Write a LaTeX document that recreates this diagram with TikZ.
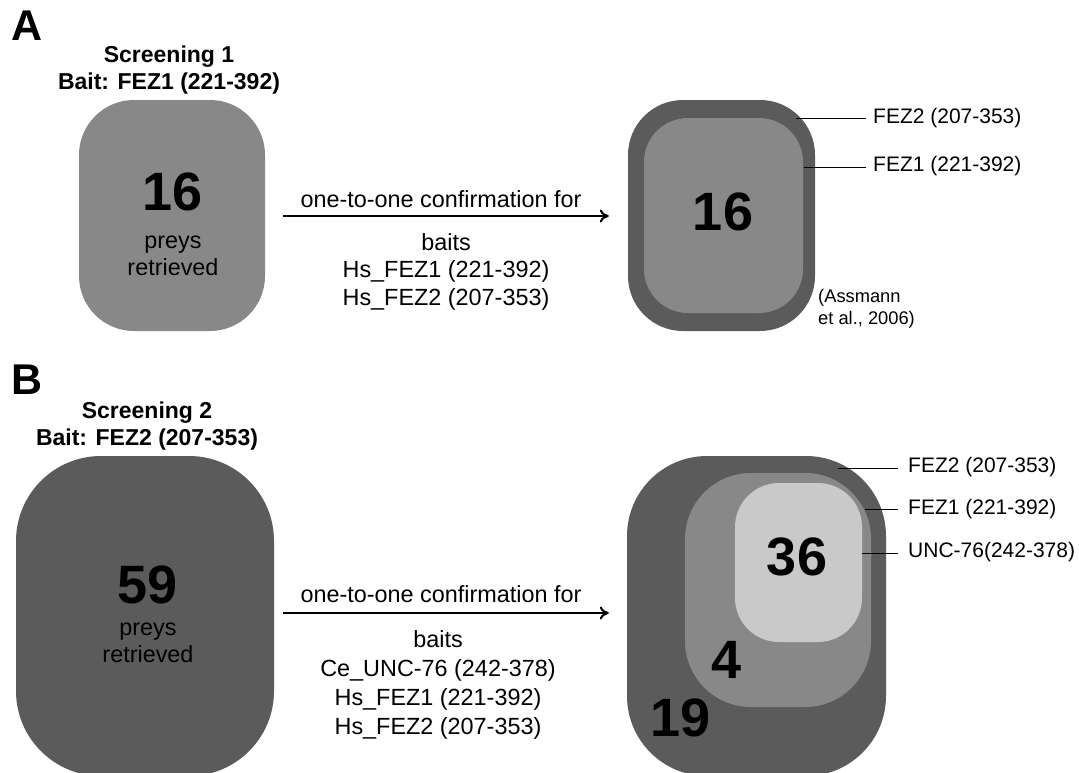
\documentclass[tikz,border=0pt]{standalone}
\usepackage{fontspec}
\setmainfont{Liberation Sans}
\usetikzlibrary{arrows.meta,calc}
\definecolor{dk}{HTML}{5B5B5B}
\definecolor{md}{HTML}{888888}
\definecolor{lt}{HTML}{C9C9C9}
\begin{document}
\begin{tikzpicture}[x=1pt,y=-1pt,
  rbox/.style={draw=none,inner sep=0pt},
  big/.style={font=\fontsize{54}{54}\selectfont\bfseries,inner sep=0pt},
  panel/.style={font=\fontsize{43}{43}\selectfont\bfseries,inner sep=0pt},
  head/.style={font=\fontsize{23}{27}\selectfont\bfseries,align=center,inner sep=0pt},
  body/.style={font=\fontsize{23.4}{27.5}\selectfont,align=center,inner sep=0pt},
  bodyB/.style={font=\fontsize{23.4}{29}\selectfont,align=center,inner sep=0pt},
  lab/.style={font=\fontsize{21}{24}\selectfont,anchor=west,inner sep=0pt},
  small/.style={font=\fontsize{18.3}{22}\selectfont,align=left,anchor=north west,inner sep=0pt},
  lead/.style={line width=1pt,black},
  flow/.style={line width=2pt,-{To[length=9pt,width=13pt]}}]
\useasboundingbox (0,0) rectangle (1079,772);
\clip (0,0) rectangle (1079,772);
% ---------- Panel A ----------
\node[panel] (pA) at (27,26) {A};
\node[head] (hA) at (169,70) {Screening 1\\Bait: FEZ1 (221-392)};
\node[rbox,fill=md,rounded corners=55pt,minimum width=186pt,minimum height=231pt] (bA) at (172,215.5) {};
\node[big] (nA) at (173,192) {16};
\node[body] (tA) at (173,256) {preys\\retrieved};
\node[rbox,fill=dk,rounded corners=55pt,minimum width=187pt,minimum height=231pt] (oA) at (721.5,215.5) {};
\node[rbox,fill=md,rounded corners=44pt,minimum width=159pt,minimum height=195pt] (iA) at (723.5,215.5) {};
\node[big] (cA) at (723,212) {16};
\coordinate (yA) at (0,216);
\draw[flow] ($(bA.east |- yA)+(18,0)$) -- ($(oA.west |- yA)+(-19,0)$);
\node[body,anchor=base] (uA) at (441,207) {one-to-one confirmation for};
\node[body,anchor=north] (dA) at (446,233) {baits\\Hs\_FEZ1 (221-392)\\Hs\_FEZ2 (207-353)};
\coordinate (eA1) at (796,118);
\coordinate (eA2) at (804,167);
\node[lab] (lA1) at (873,118) {FEZ2 (207-353)};
\node[lab] (lA2) at (873,166) {FEZ1 (221-392)};
\draw[lead] (eA1) -- ($(eA1 -| lA1.west)+(-7,0)$);
\draw[lead] (eA2) -- ($(eA2 -| lA2.west)+(-7,0)$);
\node[small] (ref) at (818,289) {(Assmann\\et al., 2006)};
% ---------- Panel B ----------
\node[panel] (pB) at (27,380) {B};
\node[head] (hB) at (147,426) {Screening 2\\Bait: FEZ2 (207-353)};
\node[rbox,fill=dk,rounded corners=85pt,minimum width=258pt,minimum height=320pt] (bB) at (145,616) {};
\node[big] (nB) at (148,585) {59};
\node[body] (tB) at (148,643) {preys\\retrieved};
\node[rbox,fill=dk,rounded corners=80pt,minimum width=259pt,minimum height=320pt] (oB) at (756.5,616) {};
\node[rbox,fill=md,rounded corners=66pt,minimum width=186pt,minimum height=234pt] (mB) at (778,590) {};
\node[rbox,fill=lt,rounded corners=44pt,minimum width=127pt,minimum height=159pt] (iB) at (798.5,562.5) {};
\node[big] (cB1) at (797,557) {36};
\node[big] (cB2) at (727,660) {4};
\node[big] (cB3) at (681,718) {19};
\coordinate (yB) at (0,613);
\draw[flow] ($(bB.east |- yB)+(9,0)$) -- ($(oB.west |- yB)+(-18,0)$);
\node[body,anchor=base] (uB) at (441,602) {one-to-one confirmation for};
\node[bodyB,anchor=north] (dB) at (438,630) {baits\\Ce\_UNC-76 (242-378)\\Hs\_FEZ1 (221-392)\\Hs\_FEZ2 (207-353)};
\coordinate (eB1) at (838,468);
\coordinate (eB2) at (865,509);
\coordinate (eB3) at (862,553);
\node[lab] (lB1) at (908,467) {FEZ2 (207-353)};
\node[lab] (lB2) at (908,509) {FEZ1 (221-392)};
\node[lab] (lB3) at (908,552) {UNC-76(242-378)};
\draw[lead] (eB1) -- ($(eB1 -| lB1.west)+(-10,0)$);
\draw[lead] (eB2) -- ($(eB2 -| lB2.west)+(-10,0)$);
\draw[lead] (eB3) -- ($(eB3 -| lB3.west)+(-10,0)$);
\end{tikzpicture}
\end{document}
